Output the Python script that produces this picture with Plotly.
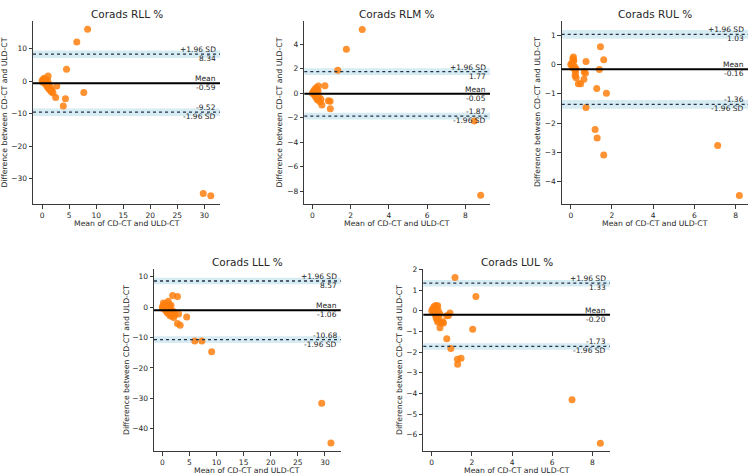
import plotly.graph_objects as go

# ---------------- data ----------------
titles = ["Corads RLL %", "Corads RLM %", "Corads RUL %", "Corads LLL %", "Corads LUL %"]

rll_x = [0.0, 0.1, 0.2, 0.3, 0.4, 0.5, 0.6, 0.7, 0.8, 0.9, 1.0, 1.1, 1.2, 1.3, 1.4, 1.5, 1.7, 1.8, 2.0,
         0.3, 0.6, 1.0, 1.1, 2.5, 2.7, 3.9, 4.3, 4.5, 6.4, 8.4, 7.7, 29.8, 31.2]
rll_y = [0.2, -0.3, 0.6, -0.1, 0.9, -0.6, 0.4, -1.0, -0.4, -1.4, -1.8, 1.6, -2.2, -0.9, -2.6, -2.0, -3.2, -2.8, -3.6,
         0.0, -0.2, 0.3, -1.2, -5.0, -1.5, -7.6, -5.4, 3.7, 12.1, 16.0, -3.5, -34.6, -35.3]

rlm_x = [0.0, 0.05, 0.1, 0.12, 0.15, 0.2, 0.22, 0.25, 0.28, 0.3, 0.35, 0.4, 0.45, 0.5, 0.32, 0.66,
         0.84, 0.93, 0.94, 1.33, 1.78, 2.61, 8.47, 8.8]
rlm_y = [0.0, 0.15, -0.1, 0.3, -0.25, 0.45, -0.4, 0.1, -0.55, 0.2, -0.3, -0.7, -0.5, -0.95, 0.6, 0.62,
         -0.62, -0.65, -1.27, 1.89, 3.6, 5.22, -2.27, -8.35]

rul_x = [0.0, 0.05, 0.1, 0.13, 0.15, 0.18, 0.2, 0.21, 0.23, 0.08, 0.12, 0.25, 0.26, 0.37, 0.48, 0.64,
         0.65, 0.71, 0.74, 0.74, 1.26, 1.39, 1.44, 1.6, 1.73, 1.18, 1.28, 1.6, 7.13, 8.18]
rul_y = [0.0, 0.04, 0.2, 0.26, 0.15, -0.07, -0.18, -0.38, -0.27, -0.1, 0.1, -0.14, -0.45, -0.66, -0.66, -0.5,
         -0.25, -0.3, 0.1, -1.47, -0.82, -0.17, 0.61, 0.16, -0.98, -2.22, -2.51, -3.09, -2.76, -4.47]

lll_x = [0.0, 0.1, 0.2, 0.3, 0.5, 0.6, 0.8, 0.9, 1.0, 1.1, 1.2, 1.3, 1.4, 1.5, 1.6, 1.7, 1.8, 2.0, 2.1, 2.3,
         1.9, 2.8, 3.0, 4.5, 2.8, 3.3, 6.0, 7.3, 9.1, 29.4, 31.1]
lll_y = [0.0, -0.4, 1.3, 0.5, -0.9, 0.8, -1.5, 1.2, -2.0, 1.9, -0.5, 0.3, -2.8, -1.0, 0.6, -3.0, -1.8, -1.4, -3.4, -2.5,
         3.8, 3.5, -2.3, -3.3, -5.4, -6.0, -11.2, -11.2, -14.7, -31.6, -44.7]

lul_x = [0.0, 0.05, 0.1, 0.12, 0.15, 0.18, 0.2, 0.22, 0.25, 0.28, 0.3, 0.33, 0.35, 0.4, 0.45, 0.3, 0.41, 0.55,
         0.58, 0.75, 0.83, 0.91, 0.75, 0.95, 1.16, 1.28, 1.29, 1.46, 2.04, 2.2, 6.99, 8.4]
lul_y = [0.0, 0.1, -0.1, 0.2, 0.05, -0.2, 0.25, -0.35, 0.15, -0.45, 0.24, 0.0, -0.3, -0.15, -0.6, -0.55, -0.83, -0.53,
         -0.59, -0.24, -0.23, -0.11, -1.36, -1.83, 1.61, -2.35, -2.59, -2.3, -0.9, 0.69, -4.31, -6.42]

means = [-0.59, -0.05, -0.16, -1.06, -0.20]
upper = [8.34, 1.77, 1.03, 8.57, 1.33]
lower = [-9.52, -1.87, -1.36, -10.68, -1.73]
ci_half = [1.15, 0.28, 0.15, 1.1, 0.16]

xs = [rll_x, rlm_x, rul_x, lll_x, lul_x]
ys = [rll_y, rlm_y, rul_y, lll_y, lul_y]

# ---------------- layout geometry ----------------
W, H = 750, 475
px_x = [(33, 220), (304.3, 490), (561.7, 748), (154, 340.7), (423.3, 610)]
px_y = [(17, 202), (17, 202), (17, 202), (267, 451), (267, 451)]
xr = [(-1.7, 32.9), (-0.42, 9.29), (-0.44, 8.6), (-1.53, 32.9), (-0.42, 8.88)]
yr = [(-37.9, 18.6), (-9.08, 5.92), (-4.77, 1.49), (-47.4, 12.6), (-6.8, 2.03)]
xdt = [5, 2, 2, 5, 2]
ydt = [10, 2, 1, 10, 1]
ytitle_x = [5, 280, 537.5, 127, 400]

TXT = "#262626"
AX = "#3a3a3a"
FONT = "DejaVu Sans"

fig = go.Figure()
layout = dict(width=W, height=H, margin=dict(l=0, r=0, t=0, b=0),
              plot_bgcolor="white", paper_bgcolor="white", showlegend=False,
              font=dict(family=FONT, color=TXT))
shapes = []
annotations = []

for i in range(5):
    n = "" if i == 0 else str(i + 1)
    xa, ya = "x" + n, "y" + n
    fig.add_trace(go.Scatter(x=xs[i], y=ys[i], mode="markers", xaxis=xa, yaxis=ya,
                             marker=dict(color="#ff7f0e", size=7, opacity=0.85, line=dict(width=0))))
    axcommon = dict(showgrid=False, zeroline=False, showline=True, linecolor=AX, linewidth=1,
                    ticks="outside", ticklen=3.5, tickcolor=AX, tickwidth=1,
                    tickfont=dict(size=7.5, color=TXT, family=FONT))
    layout["xaxis" + n] = dict(axcommon, domain=[px_x[i][0] / W, px_x[i][1] / W],
                               range=list(xr[i]), dtick=xdt[i], tick0=0, anchor=ya)
    layout["yaxis" + n] = dict(axcommon, domain=[1 - px_y[i][1] / H, 1 - px_y[i][0] / H],
                               range=list(yr[i]), dtick=ydt[i], tick0=0, anchor=xa)
    xd = xa + " domain"
    yd = ya + " domain"
    # bands
    for v in (upper[i], lower[i]):
        shapes.append(dict(type="rect", xref=xd, yref=ya, x0=0, x1=1,
                           y0=v - ci_half[i], y1=v + ci_half[i],
                           fillcolor="rgba(173,216,230,0.5)", line=dict(width=0), layer="below"))
        shapes.append(dict(type="line", xref=xd, yref=ya, x0=0, x1=1, y0=v, y1=v,
                           line=dict(color="#24324a", width=1.3, dash="dot")))
    shapes.append(dict(type="line", xref=xd, yref=ya, x0=0, x1=1, y0=means[i], y1=means[i],
                       line=dict(color="black", width=2)))
    # limit labels
    lab_font = dict(size=7.5, color=TXT, family=FONT)
    for v, above, below in ((upper[i], "+1.96 SD", f"{upper[i]:.2f}"),
                            (means[i], "Mean", f"{means[i]:.2f}"),
                            (lower[i], f"{lower[i]:.2f}", "-1.96 SD")):
        annotations.append(dict(xref=xd, yref=ya, x=0.985, y=v, text=above, showarrow=False,
                                xanchor="right", yanchor="bottom", font=lab_font, borderpad=0, yshift=-1))
        annotations.append(dict(xref=xd, yref=ya, x=0.985, y=v, text=below, showarrow=False,
                                xanchor="right", yanchor="top", font=lab_font, borderpad=0, yshift=1))
    # title
    annotations.append(dict(xref=xd, yref=yd, x=0.5, y=1, text=titles[i], showarrow=False,
                            xanchor="center", yanchor="bottom", yshift=-1,
                            font=dict(size=10.5, color=TXT, family=FONT)))
    # axis titles
    annotations.append(dict(xref=xd, yref="paper", x=0.5, y=1 - (px_y[i][1] + 19) / H,
                            text="Mean of CD-CT and ULD-CT", showarrow=False,
                            xanchor="center", yanchor="middle",
                            font=dict(size=7.7, color=TXT, family=FONT)))
    annotations.append(dict(xref="paper", yref=yd, x=ytitle_x[i] / W, y=0.5,
                            text="Difference between CD-CT and ULD-CT", showarrow=False,
                            textangle=-90, xanchor="center", yanchor="middle",
                            font=dict(size=7.7, color=TXT, family=FONT)))

layout["shapes"] = shapes
layout["annotations"] = annotations
fig.update_layout(**layout)
fig.write_html("out.html", config={"displayModeBar": False},
               post_script="document.body.style.margin='0';document.body.style.padding='0';")
